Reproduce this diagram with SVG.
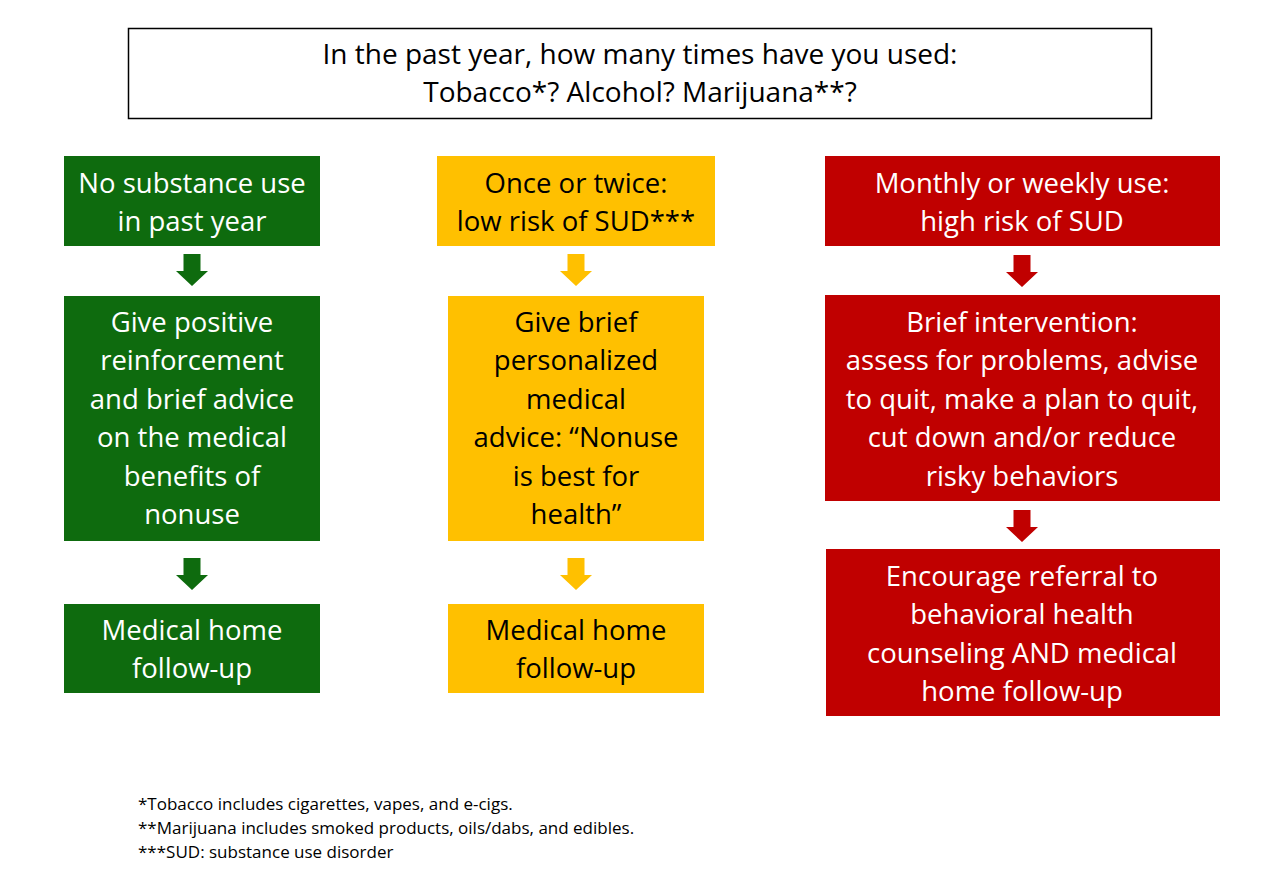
<svg xmlns="http://www.w3.org/2000/svg" width="1280" height="891" viewBox="0 0 1280 891">
<style>
  .t{font-family:"Open Sans","Noto Sans","Liberation Sans",sans-serif;font-size:27.5px;text-anchor:middle}
  .w{fill:#ffffff}
  .k{fill:#000000}
  .g{fill:#0E6B0E}
  .y{fill:#FFC000}
  .r{fill:#C00000}
  .fn{font-family:"Open Sans","Noto Sans","Liberation Sans",sans-serif;font-size:17px;fill:#000}
</style>
<defs>
  <path id="arr" d="M-8.5,0 H8.5 V17 H16 L0,32 L-16,17 H-8.5 Z"/>
</defs>
<rect width="1280" height="891" fill="#ffffff"/>

<g id="question">
  <rect x="128.5" y="28.5" width="1023" height="90" fill="#fff" stroke="#000" stroke-width="1.5"/>
  <text class="t k" x="640" y="64" style="font-size:28px">In the past year, how many times have you used:</text>
  <text class="t k" x="640" y="102" style="font-size:28px">Tobacco*? Alcohol? Marijuana**?</text>
</g>

<g id="connectors">
  <use href="#arr" x="192" y="254" class="g"/>
  <use href="#arr" x="192" y="558" class="g"/>
  <use href="#arr" x="576" y="254" class="y"/>
  <use href="#arr" x="576" y="558" class="y"/>
  <use href="#arr" x="1022" y="255" class="r"/>
  <use href="#arr" x="1022" y="510" class="r"/>
</g>

<g id="green1">
  <rect x="64" y="156" width="256" height="90" class="g"/>
  <text class="t w" x="192" y="193">No substance use</text>
  <text class="t w" x="192" y="231">in past year</text>
</g>
<g id="green2">
  <rect x="64" y="296" width="256" height="245" class="g"/>
  <text class="t w" x="192" y="332">Give positive</text>
  <text class="t w" x="192" y="370">reinforcement</text>
  <text class="t w" x="192" y="409">and brief advice</text>
  <text class="t w" x="192" y="447">on the medical</text>
  <text class="t w" x="192" y="486">benefits of</text>
  <text class="t w" x="192" y="524">nonuse</text>
</g>
<g id="green3">
  <rect x="64" y="604" width="256" height="89" class="g"/>
  <text class="t w" x="192" y="640">Medical home</text>
  <text class="t w" x="192" y="678">follow-up</text>
</g>

<g id="yellow1">
  <rect x="437" y="156" width="278" height="90" class="y"/>
  <text class="t k" x="576" y="193">Once or twice:</text>
  <text class="t k" x="576" y="231">low risk of SUD***</text>
</g>
<g id="yellow2">
  <rect x="448" y="296" width="256" height="245" class="y"/>
  <text class="t k" x="576" y="332">Give brief</text>
  <text class="t k" x="576" y="370">personalized</text>
  <text class="t k" x="576" y="409">medical</text>
  <text class="t k" x="576" y="447">advice: “Nonuse</text>
  <text class="t k" x="576" y="486">is best for</text>
  <text class="t k" x="576" y="524">health”</text>
</g>
<g id="yellow3">
  <rect x="448" y="604" width="256" height="89" class="y"/>
  <text class="t k" x="576" y="640">Medical home</text>
  <text class="t k" x="576" y="678">follow-up</text>
</g>

<g id="red1">
  <rect x="825" y="156" width="395" height="90" class="r"/>
  <text class="t w" x="1022" y="193">Monthly or weekly use:</text>
  <text class="t w" x="1022" y="231">high risk of SUD</text>
</g>
<g id="red2">
  <rect x="825" y="295" width="395" height="206" class="r"/>
  <text class="t w" x="1022" y="332">Brief intervention:</text>
  <text class="t w" x="1022" y="370">assess for problems, advise</text>
  <text class="t w" x="1022" y="409">to quit, make a plan to quit,</text>
  <text class="t w" x="1022" y="447">cut down and/or reduce</text>
  <text class="t w" x="1022" y="486">risky behaviors</text>
</g>
<g id="red3">
  <rect x="826" y="549" width="394" height="167" class="r"/>
  <text class="t w" x="1022" y="586">Encourage referral to</text>
  <text class="t w" x="1022" y="624">behavioral health</text>
  <text class="t w" x="1022" y="663">counseling AND medical</text>
  <text class="t w" x="1022" y="701">home follow-up</text>
</g>

<g id="footnotes">
  <text class="fn" x="138" y="810">*Tobacco includes cigarettes, vapes, and e-cigs.</text>
  <text class="fn" x="138" y="834">**Marijuana includes smoked products, oils/dabs, and edibles.</text>
  <text class="fn" x="138" y="858">***SUD: substance use disorder</text>
</g>
</svg>
